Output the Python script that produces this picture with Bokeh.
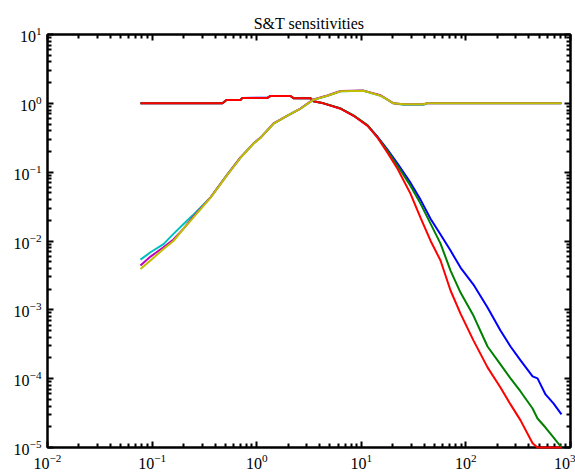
from bokeh.plotting import figure
from bokeh.models import LogAxis, FixedTicker, Range1d, CustomJSTickFormatter
from bokeh.embed import file_html
from bokeh.resources import INLINE

# ---- data ----
# Sensitivity curves S (start at 1, roll off at high frequency)
freq_s = [0.0774, 0.471, 0.514, 0.700, 0.731, 1.27, 1.36, 2.10, 2.25, 3.27, 3.49, 4.35,
          6.33, 8.42, 11.5, 14.3, 17.8, 22.2, 29.5, 36.8, 45.9, 57.2, 71.3, 88.8, 118,
          161, 214, 267, 333, 434, 484, 577, 687, 820]
s_blue = [1.0, 1.0, 1.12, 1.13, 1.20, 1.21, 1.28, 1.28, 1.19, 1.19, 1.07, 1.0, 0.84, 0.665, 0.475,
          0.327, 0.212, 0.133, 0.0704, 0.0399, 0.0211, 0.0124, 0.00726, 0.00411, 0.00233,
          0.00108, 0.000501, 0.000293, 0.000184, 0.000108, 0.000101, 0.000059, 0.0000437, 0.0000302]
s_green = [1.0, 1.0, 1.12, 1.12, 1.20, 1.20, 1.28, 1.28, 1.19, 1.19, 1.07, 1.0, 0.845, 0.67, 0.48,
           0.32, 0.205, 0.124, 0.0637, 0.0349, 0.0179, 0.00916, 0.00372, 0.00178, 0.000826,
           0.000293, 0.000161, 0.000101, 0.0000652, 0.0000369, 0.0000264, 0.0000195, 0.000014, 0.00001]
s_red = [1.0, 1.0, 1.12, 1.12, 1.20, 1.20, 1.28, 1.28, 1.19, 1.19, 1.07, 1.0, 0.835, 0.66, 0.47,
         0.317, 0.192, 0.112, 0.0488, 0.0219, 0.0101, 0.0052, 0.00191, 0.00088, 0.00036,
         0.000146, 0.0000746, 0.0000423, 0.0000248, 0.0000115, 0.00001, 0.00001, 0.00001, 0.00001]

# Complementary sensitivity curves T (rise, peak, settle at 1)
freq_t = [0.0774, 0.0966, 0.1285, 0.160, 0.200, 0.243, 0.362, 0.526, 0.700, 0.931, 1.09, 1.45,
          1.97, 2.62, 3.49, 4.75, 6.33, 10.5, 15.3, 20.3, 25.3, 39.4, 42.0, 820]
t_cyan = [0.00537, 0.00686, 0.00902, 0.0127, 0.0177, 0.0234, 0.0430, 0.094, 0.163, 0.261, 0.319, 0.508,
          0.662, 0.836, 1.13, 1.29, 1.50, 1.52, 1.29, 1.0, 0.95, 0.95, 1.0, 1.0]
t_magenta = [0.0044, 0.00594, 0.0081, 0.0105, 0.0151, 0.0219, 0.0430, 0.093, 0.164, 0.260, 0.318, 0.51,
             0.665, 0.84, 1.14, 1.30, 1.51, 1.53, 1.31, 1.0, 0.97, 0.97, 1.0, 1.0]
t_yellow = [0.00391, 0.0052, 0.00767, 0.0100, 0.0151, 0.0211, 0.0427, 0.092, 0.162, 0.259, 0.317, 0.506,
            0.661, 0.835, 1.13, 1.29, 1.50, 1.52, 1.29, 1.0, 0.97, 0.97, 1.0, 1.0]

x_major = [1e-2, 1e-1, 1e0, 1e1, 1e2, 1e3]
y_major = [1e-5, 1e-4, 1e-3, 1e-2, 1e-1, 1e0, 1e1]
title_text = "S&T sensitivities"

def minors(majors):
    out = []
    for m in majors[:-1]:
        out += [m * k for k in range(2, 10)]
    return out

p = figure(frame_width=523, frame_height=413,
           x_axis_type="log", y_axis_type="log",
           x_range=Range1d(1e-2, 1e3), y_range=Range1d(1e-5, 1e1),
           output_backend="svg", toolbar_location=None, title=title_text,
           min_border_left=47, min_border_right=5, min_border_top=34, min_border_bottom=27)
p.background_fill_color = "white"
p.border_fill_color = "white"
p.outline_line_color = "black"
p.outline_line_width = 2
p.xgrid.visible = False
p.ygrid.visible = False

p.title.text_font = "Liberation Serif"
p.title.text_font_size = "16px"
p.title.text_font_style = "normal"
p.title.align = "center"
p.title.text_color = "black"
p.title.standoff = 6

def style(ax, ticks, show_labels=True):
    ax.ticker = FixedTicker(ticks=ticks, minor_ticks=minors(ticks))
    ax.axis_line_width = 2
    ax.axis_line_color = "black"
    ax.major_tick_in = 6
    ax.major_tick_out = 0
    ax.minor_tick_in = 4
    ax.minor_tick_out = 0
    ax.major_tick_line_width = 2
    ax.minor_tick_line_width = 2
    ax.major_tick_line_color = "black"
    ax.minor_tick_line_color = "black"
    ax.major_label_text_font = "Liberation Serif"
    ax.major_label_text_color = "black"
    ax.major_label_text_font_size = "16px"
    if show_labels:
        ax.major_label_standoff = 6
    else:
        ax.formatter = CustomJSTickFormatter(code="return '';")
        ax.major_label_standoff = 0

style(p.xaxis[0], x_major)
style(p.yaxis[0], y_major)
top = LogAxis()
right = LogAxis()
style(top, x_major, False)
style(right, y_major, False)
p.add_layout(top, "above")
p.add_layout(right, "right")

lw = 2
p.line(freq_s, s_blue, color="#0000ff", line_width=lw, level="overlay")
p.line(freq_s, s_green, color="#008000", line_width=lw, level="overlay")
p.line(freq_s, s_red, color="#ff0000", line_width=lw, level="overlay")
p.line(freq_t, t_cyan, color="#00bfbf", line_width=lw, level="overlay")
p.line(freq_t, t_magenta, color="#bf00bf", line_width=lw, level="overlay")
p.line(freq_t, t_yellow, color="#bfbf00", line_width=lw, level="overlay")

open("out.html", "w").write(file_html(p, INLINE))
